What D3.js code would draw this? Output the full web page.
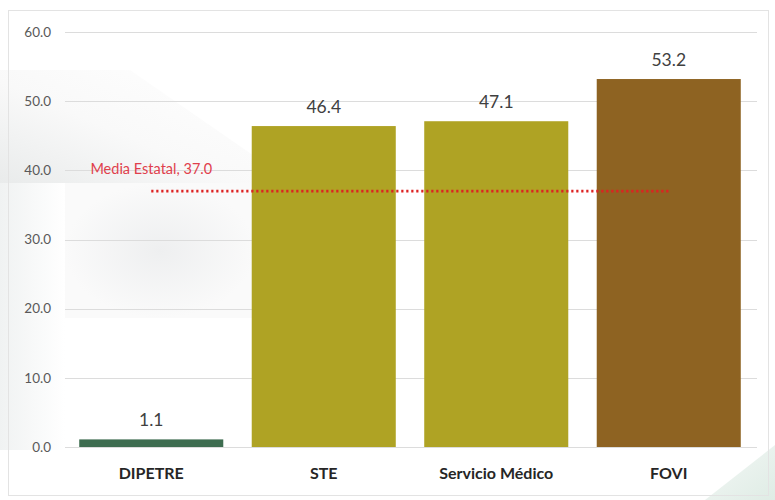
<!DOCTYPE html>
<html><head><meta charset="utf-8">
<script src="https://cdn.jsdelivr.net/npm/d3@7"></script>
<style>
html,body{margin:0;padding:0;background:#fff;}
svg{display:block;font-family:Lato,"Open Sans",sans-serif;}
</style></head>
<body>
<svg id="chart" width="775" height="500"></svg>
<script>
const categories = ["DIPETRE", "STE", "Servicio Médico", "FOVI"];
const values = [1.1, 46.4, 47.1, 53.2];
const barColors = ["#3e6d50", "#afa324", "#afa324", "#8e6322"];
const meanValue = 37.0;
const meanLabel = "Media Estatal, 37.0";
const yTicks = [0, 10, 20, 30, 40, 50, 60];

const svg = d3.select("#chart");
const W = 775, H = 500;
const defs = svg.append("defs");

// background decorations
const g1 = defs.append("linearGradient").attr("id","gl1").attr("x1","100%").attr("y1","0%").attr("x2","0%").attr("y2","100%");
g1.append("stop").attr("offset","0%").attr("stop-color","#ffffff");
g1.append("stop").attr("offset","55%").attr("stop-color","#f9f9f9");
g1.append("stop").attr("offset","100%").attr("stop-color","#e9ebeb");
const g2 = defs.append("radialGradient").attr("id","gl2");
g2.append("stop").attr("offset","0%").attr("stop-color","#eeeff0");
g2.append("stop").attr("offset","100%").attr("stop-color","#fafafa");
const g3 = defs.append("linearGradient").attr("id","gl3").attr("x1","0%").attr("y1","0%").attr("x2","100%").attr("y2","0%");
g3.append("stop").attr("offset","0%").attr("stop-color","#f0f2f2");
g3.append("stop").attr("offset","100%").attr("stop-color","#ffffff");
const g4 = defs.append("linearGradient").attr("id","gl4").attr("x1","100%").attr("y1","100%").attr("x2","0%").attr("y2","0%");
g4.append("stop").attr("offset","0%").attr("stop-color","#dfece5");
g4.append("stop").attr("offset","100%").attr("stop-color","#f4f8f6");

svg.append("rect").attr("x",0).attr("y",0).attr("width",W).attr("height",H).attr("fill","#ffffff");
svg.append("polygon").attr("points","0,70 0,183 260,183 260,160 130,70").attr("fill","url(#gl1)");
svg.append("rect").attr("x",65).attr("y",183).attr("width",190).attr("height",135).attr("fill","url(#gl2)");
svg.append("rect").attr("x",0).attr("y",183).attr("width",65).attr("height",267).attr("fill","url(#gl3)");
svg.append("polygon").attr("points","705,500 775,500 775,445").attr("fill","url(#gl4)");
svg.append("rect").attr("x",8.5).attr("y",10.5).attr("width",760).attr("height",485)
  .attr("fill","none").attr("stroke","#e3e3e3").attr("stroke-width",1);

const x = d3.scaleBand().domain(categories).range([65, 755]).paddingInner(0.165).paddingOuter(0.0825);
const y = d3.scaleLinear().domain([0, 60]).range([447, 32]);

// gridlines
svg.append("g").selectAll("line").data(yTicks).join("line")
  .attr("x1", 65).attr("x2", 757)
  .attr("y1", d => Math.round(y(d)) + 0.5).attr("y2", d => Math.round(y(d)) + 0.5)
  .attr("stroke", "#dcdcdc").attr("stroke-width", 1);

// y axis labels
const yAxis = d3.axisLeft(y).tickValues(yTicks).tickFormat(d3.format(".1f")).tickSize(0).tickPadding(0);
const ya = svg.append("g").attr("transform","translate(51,0)").call(yAxis);
ya.select(".domain").remove();
ya.selectAll("text").attr("font-size",13.5).attr("fill","#595959").attr("font-family","Lato, sans-serif");

// bars
svg.append("g").selectAll("rect").data(categories).join("rect")
  .attr("x", d => x(d)).attr("width", x.bandwidth())
  .attr("y", (d,i) => y(values[i])).attr("height", (d,i) => y(0) - y(values[i]))
  .attr("fill", (d,i) => barColors[i]);

// value labels
svg.append("g").selectAll("text").data(categories).join("text")
  .attr("x", d => x(d) + x.bandwidth()/2)
  .attr("y", (d,i) => y(values[i]) - 13)
  .attr("text-anchor","middle").attr("font-size",17.5).attr("fill","#404040")
  .text((d,i) => d3.format(".1f")(values[i]));

// x axis labels
const xAxis = d3.axisBottom(x).tickSize(0).tickPadding(0);
const xa = svg.append("g").attr("transform","translate(0,468)").call(xAxis);
xa.select(".domain").remove();
xa.selectAll("text").attr("font-size",16).attr("font-weight","bold").attr("fill","#262626").attr("font-family","Lato, sans-serif");

// mean line
const line = d3.line().x(d => x(d) + x.bandwidth()/2).y(() => y(meanValue));
svg.append("path").datum(categories).attr("d", line)
  .attr("fill","none").attr("stroke","#dd2222").attr("stroke-width",2.6)
  .attr("stroke-dasharray","2.2,2.8");

svg.append("text")
  .attr("x", x(categories[0]) + x.bandwidth()/2)
  .attr("y", y(meanValue) - 17)
  .attr("text-anchor","middle").attr("font-size",14.5).attr("fill","#e0404c")
  .text(meanLabel);
</script>
</body></html>
